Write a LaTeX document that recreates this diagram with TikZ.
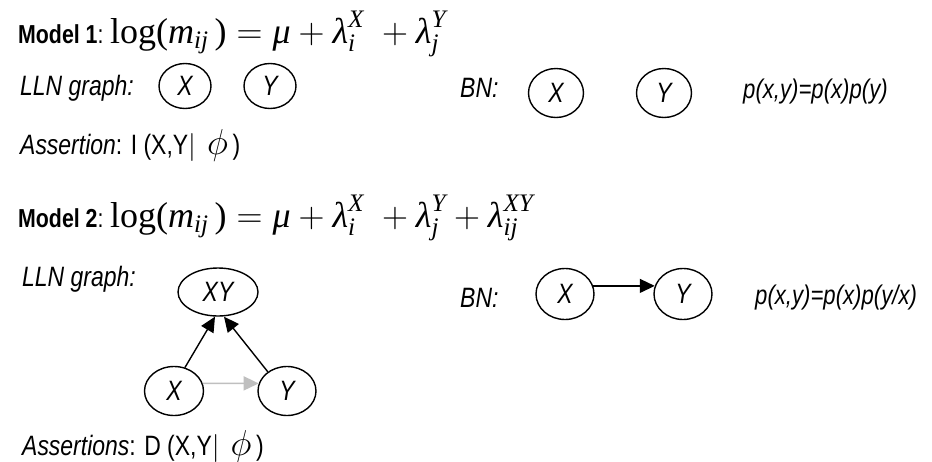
\RequirePackage{fix-cm}
\documentclass[tikz,border=0pt]{standalone}
\usepackage{amsmath}
\usepackage{fontspec}
\setmainfont{Liberation Serif}
\newfontfamily\lab{Liberation Sans}[FakeStretch=0.82]
\usetikzlibrary{arrows.meta,shapes.geometric}
\newcommand\fm[1]{\textit{#1}}
\newcommand\tr[1]{\textrm{#1}}
\tikzset{
 lbl/.style={font=\lab\fontsize{28}{32}\selectfont\itshape, inner sep=0, anchor=west},
 hd/.style={font=\lab\fontsize{26}{30}\selectfont, inner sep=0, anchor=base west},
 eq/.style={font=\fontsize{36}{40}\selectfont, inner sep=0, anchor=base west},
 nd/.style={draw, line width=1.4pt, ellipse, inner sep=0, font=\lab\fontsize{28}{32}\selectfont\itshape},
 pf/.style={font=\lab\fontsize{27}{32}\selectfont\itshape, inner sep=0, anchor=west},
 arr/.style={-{Triangle[length=15pt,width=14pt]}, line width=1.4pt},
 garr/.style={-{Triangle[length=15pt,width=14pt]}, line width=1.6pt, draw=black!25, fill=black!25},
 asr/.style={font=\lab\fontsize{28}{32}\selectfont, inner sep=0, anchor=west},
}
\begin{document}
\begin{tikzpicture}[x=1pt,y=-1pt]
\path[use as bounding box] (0,0) rectangle (932,461);
% ---- Model 1
\node[hd] (m1) at (18,43) {{\bfseries Model 1}:};
\node[eq] (f1) at (110,43) {$\tr{log}\tr{(}\fm{m}_{\fm{ij}}\,\tr{)} = \fm{μ} + \fm{λ}_{\fm{i}}^{\fm{X}} \;+ \fm{λ}_{\fm{j}}^{\fm{Y}}$};
\node[lbl] (l1) at (20,88) {LLN graph:};
\node[nd, minimum width=52, minimum height=45] (x1) at (185,86) {X};
\node[nd, minimum width=52, minimum height=45] (y1) at (270,86) {Y};
\node[lbl] (b1) at (460,88) {BN:};
\node[nd, minimum width=55, minimum height=49] (bx1) at (556,93) {X};
\node[nd, minimum width=55, minimum height=49] (by1) at (664,93) {Y};
\node[pf] (p1) at (743,92) {p(x,y)=p(x)p(y)};
\node[asr] (a1) at (20,145) {\textit{Assertion}: I (X,Y$|$\ \,{\fontsize{36}{40}\selectfont$\phi$}\,)};
% ---- Model 2
\node[hd] (m2) at (18,227) {{\bfseries Model 2}:};
\node[eq] (f2) at (110,227) {$\tr{log}\tr{(}\fm{m}_{\fm{ij}}\,\tr{)} = \fm{μ} + \fm{λ}_{\fm{i}}^{\fm{X}} \;+ \fm{λ}_{\fm{j}}^{\fm{Y}} + \fm{λ}_{\fm{ij}}^{\fm{XY}}$};
\node[lbl] (l2) at (22,279) {LLN graph:};
\node[nd, minimum width=80, minimum height=48] (xy) at (218,292) {XY};
\node[nd, minimum width=59, minimum height=49] (x2) at (174,391) {X};
\node[nd, minimum width=58, minimum height=49] (y2) at (287,391) {Y};
\draw[arr] (x2.65) -- ([xshift=-3pt]xy.south);
\draw[arr] (y2.135) -- ([xshift=6pt]xy.south);
\draw[garr] (x2.15) -- (y2.165);
\node[lbl] (b2) at (460,298) {BN:};
\node[nd, minimum width=58, minimum height=51] (bx2) at (565,294) {X};
\node[nd, minimum width=58, minimum height=51] (by2) at (683,294) {Y};
\draw[arr] (bx2.16) -- (by2.164);
\node[pf] (p2) at (755,298) {p(x,y)=p(x)p(y/x)};
\node[asr] (a2) at (22,446) {\textit{Assertions}: D (X,Y$|$\ \,{\fontsize{36}{40}\selectfont$\phi$}\,)};
\end{tikzpicture}
\end{document}
